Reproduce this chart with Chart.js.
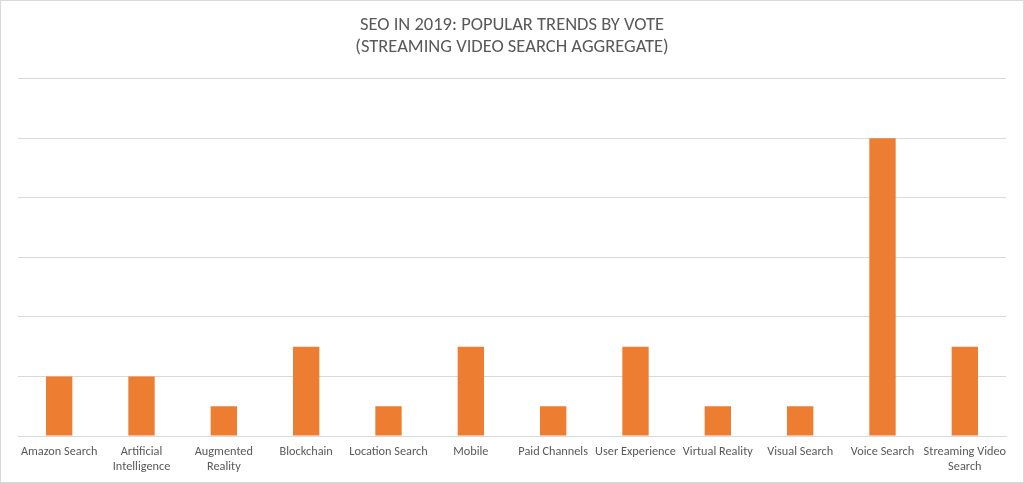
<!DOCTYPE html>
<html>
<head>
<meta charset="utf-8">
<script src="https://cdn.jsdelivr.net/npm/chart.js@4"></script>
<style>
  html, body { margin: 0; padding: 0; background: #fff; }
  #seoChart { display: block; outline: 1px solid #d9d9d9; outline-offset: -1px; }
</style>
</head>
<body>
<canvas id="seoChart" width="1024" height="483"></canvas>
<script>
// Chart data
const categories = [
    'Amazon Search', ['Artificial', 'Intelligence'], ['Augmented', 'Reality'], 'Blockchain',
    'Location Search', 'Mobile', 'Paid Channels', 'User Experience',
    'Virtual Reality', 'Visual Search', 'Voice Search', ['Streaming Video', 'Search']
];
const votes = [2, 2, 1, 3, 1, 3, 1, 3, 1, 1, 10, 3];
const titleLines = ['SEO IN 2019: POPULAR TRENDS BY VOTE', '(STREAMING VIDEO SEARCH AGGREGATE)'];

const fontFamily = 'Calibri, Carlito, Lato, sans-serif';

const ctx = document.getElementById('seoChart').getContext('2d');
new Chart(ctx, {
    type: 'bar',
    data: {
        labels: categories,
        datasets: [{
            label: 'Votes',
            data: votes,
            backgroundColor: '#ed7d31',
            borderWidth: 0,
            categoryPercentage: 1,
            barPercentage: 0.32
        }]
    },
    options: {
        responsive: false,
        animation: false,
        layout: {
            padding: { left: 18, right: 18, top: 0, bottom: 0 }
        },
        scales: {
            x: {
                grid: { display: false, drawTicks: false },
                border: { display: true, color: '#d9d9d9', width: 1 },
                ticks: {
                    color: '#595959',
                    font: { family: fontFamily, size: 12.3 },
                    maxRotation: 0,
                    autoSkip: false,
                    padding: 9
                },
                // fix the axis height so the plot bottom lands where the reference has it
                afterFit: function(scale) {
                    scale.height = 47;
                }
            },
            y: {
                min: 0,
                max: 12,
                ticks: { display: false, stepSize: 2 },
                grid: { color: '#d9d9d9', drawTicks: false },
                border: { display: false }
            }
        },
        plugins: {
            legend: { display: false },
            tooltip: { enabled: false },
            title: {
                display: true,
                text: titleLines,
                color: '#595959',
                font: { family: fontFamily, size: 18.5, weight: 'normal', lineHeight: 1.15 },
                padding: { top: 15, bottom: 21 }
            }
        }
    }
});
</script>
</body>
</html>
